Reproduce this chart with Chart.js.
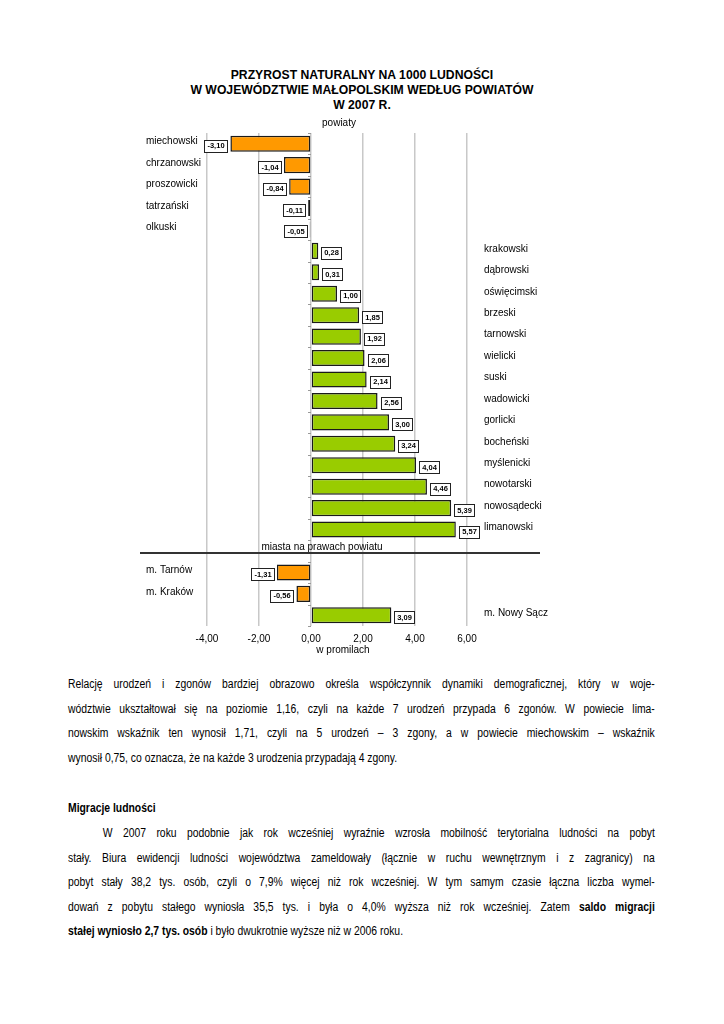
<!DOCTYPE html>
<html lang="pl">
<head>
<meta charset="utf-8">
<script src="https://cdn.jsdelivr.net/npm/chart.js@4.4.1/dist/chart.umd.min.js"></script>
<style>
  html, body { margin: 0; padding: 0; background: #fff; }
  body { width: 724px; height: 1024px; position: relative; font-family: "Liberation Sans", Arial, sans-serif; color: #000; overflow: hidden; }
  #title { position: absolute; top: 68px; left: 0; width: 724px; text-align: center; font-weight: bold; font-size: 12.2px; line-height: 15px; }
  #chart-box { position: absolute; left: 130px; top: 110px; width: 420px; height: 558px; }
  /* the document text is set in a narrow face: squeeze the regular one */
  .para { position: absolute; left: 68px; width: 707px; font-size: 12.5px; line-height: 24.5px; transform: scaleX(0.83); transform-origin: 0 0; }
  .para .l { text-align: justify; text-align-last: justify; white-space: nowrap; }
  .para .l.last { text-align-last: left; }
  .para .l.ind { padding-left: 42px; }
  #heading { position: absolute; left: 68px; top: 801px; font-size: 12.5px; font-weight: bold; transform: scaleX(0.83); transform-origin: 0 0; }
</style>
</head>
<body>
<div id="title">PRZYROST NATURALNY NA 1000 LUDNOŚCI<br>W WOJEWÓDZTWIE MAŁOPOLSKIM WEDŁUG POWIATÓW<br>W 2007 R.</div>
<div id="chart-box"><canvas id="chart"></canvas></div>

<div class="para" style="top:672px">
  <div class="l">Relację urodzeń i zgonów bardziej obrazowo określa współczynnik dynamiki demograficznej, który w woje-</div>
  <div class="l">wództwie ukształtował się na poziomie 1,16, czyli na każde 7 urodzeń przypada 6 zgonów. W powiecie lima-</div>
  <div class="l">nowskim wskaźnik ten wynosił 1,71, czyli na 5 urodzeń – 3 zgony, a w powiecie miechowskim – wskaźnik</div>
  <div class="l last">wynosił 0,75, co oznacza, że na każde 3 urodzenia przypadają 4 zgony.</div>
</div>

<div id="heading">Migracje ludności</div>

<div class="para" style="top:821px">
  <div class="l ind">W 2007 roku podobnie jak rok wcześniej wyraźnie wzrosła mobilność terytorialna ludności na pobyt</div>
  <div class="l">stały. Biura ewidencji ludności województwa zameldowały (łącznie w ruchu wewnętrznym i z zagranicy) na</div>
  <div class="l">pobyt stały 38,2 tys. osób, czyli o 7,9% więcej niż rok wcześniej. W tym samym czasie łączna liczba wymel-</div>
  <div class="l">dowań z pobytu stałego wyniosła 35,5 tys. i była o 4,0% wyższa niż rok wcześniej. Zatem <b>saldo migracji</b></div>
  <div class="l last"><b>stałej wyniosło 2,7 tys. osób</b> i było dwukrotnie wyższe niż w 2006 roku.</div>
</div>

<script>
const powiaty = ["miechowski", "chrzanowski", "proszowicki", "tatrzański", "olkuski",
  "krakowski", "dąbrowski", "oświęcimski", "brzeski", "tarnowski", "wielicki", "suski",
  "wadowicki", "gorlicki", "bocheński", "myślenicki", "nowotarski", "nowosądecki", "limanowski"];
const powiatyValues = [-3.10, -1.04, -0.84, -0.11, -0.05, 0.28, 0.31, 1.00, 1.85, 1.92, 2.06,
  2.14, 2.56, 3.00, 3.24, 4.04, 4.46, 5.39, 5.57];

const miasta = ["m. Tarnów", "m. Kraków", "m. Nowy Sącz"];
const miastaValues = [-1.31, -0.56, 3.09];

const xTicks = [-4, -2, 0, 2, 4, 6];

const separatorLabel = "miasta na prawach powiatu";
const xTitle = "w promilach";

// one empty slot between the two groups
const labels = [...powiaty, "", ...miasta];
const values = [...powiatyValues, null, ...miastaValues];
const separatorIndex = powiaty.length;

const FONT = "'Liberation Sans', Arial, sans-serif";

function fmt(v) {
  return v.toFixed(2).replace(".", ",");
}

const annotations = {
  id: "annotations",
  afterDatasetsDraw(chart) {
    const { ctx, chartArea, scales } = chart;
    const x = scales.x;
    const y = scales.y;
    const meta = chart.getDatasetMeta(0);
    const x0 = x.getPixelForValue(0);

    ctx.save();

    // small ticks on the zero axis
    ctx.strokeStyle = "#999";
    ctx.lineWidth = 1;
    for (let i = 0; i <= labels.length; i++) {
      const yy = Math.round(y.getPixelForValue(i - 0.5)) + 0.5;
      ctx.beginPath();
      ctx.moveTo(x0 - 3, yy);
      ctx.lineTo(x0, yy);
      ctx.stroke();
    }

    // category names
    ctx.font = "10px " + FONT;
    ctx.fillStyle = "#000";
    ctx.textBaseline = "middle";
    ctx.textAlign = "left";
    labels.forEach((name, i) => {
      if (!name) return;
      const yy = y.getPixelForValue(i) - 2;
      if (values[i] < 0) {
        ctx.fillText(name, chartArea.left - 61, yy);
      } else {
        ctx.fillText(name, chartArea.right + 17, yy);
      }
    });

    // value boxes
    ctx.font = "bold 7.5px " + FONT;
    meta.data.forEach((bar, i) => {
      const v = values[i];
      if (v === null) return;
      const text = fmt(v);
      const w = Math.ceil(ctx.measureText(text).width) + 5;
      const h = 12;
      const cy = bar.y + 2;
      let bx = v < 0 ? bar.x - 3 - w : bar.x + 3;
      bx = Math.round(bx) + 0.5;
      const by = Math.round(cy - h / 2) + 0.5;
      ctx.fillStyle = "#fff";
      ctx.fillRect(bx, by, w, h);
      ctx.strokeStyle = "#222";
      ctx.lineWidth = 1;
      ctx.strokeRect(bx, by, w, h);
      ctx.fillStyle = "#000";
      ctx.textAlign = "center";
      ctx.fillText(text, bx + w / 2, cy + 0.5);
    });

    // separator between powiaty and cities
    const sy = y.getPixelForValue(separatorIndex) + 2;
    ctx.strokeStyle = "#333";
    ctx.lineWidth = 2;
    ctx.beginPath();
    ctx.moveTo(chartArea.left - 67, sy);
    ctx.lineTo(chartArea.right + 73, sy);
    ctx.stroke();

    ctx.font = "10px " + FONT;
    ctx.textAlign = "center";
    ctx.fillStyle = "#000";
    ctx.fillText(separatorLabel, chartArea.left + 115, sy - 6);

    // group header and axis title
    ctx.fillText("powiaty", (chartArea.left + chartArea.right) / 2 + 2, chartArea.top - 10);
    ctx.fillText(xTitle, chartArea.left + 136, chartArea.bottom + 24);

    ctx.restore();
  }
};

const chart = new Chart(document.getElementById("chart"), {
  type: "bar",
  data: {
    labels: labels,
    datasets: [
      {
        data: values,
        backgroundColor: values.map((v) => (v < 0 ? "#ff9900" : "#99cc00")),
        borderColor: "#1a1a1a",
        borderWidth: 1.5,
        borderSkipped: false,
        barPercentage: 0.75,
        categoryPercentage: 1
      }
    ]
  },
  options: {
    indexAxis: "y",
    animation: false,
    responsive: true,
    maintainAspectRatio: false,
    layout: {
      padding: { left: 77, right: 83, top: 23, bottom: 16 }
    },
    plugins: {
      legend: { display: false },
      tooltip: { enabled: false }
    },
    scales: {
      x: {
        min: -4,
        max: 6,
        afterBuildTicks: (scale) => {
          scale.ticks = xTicks.map((v) => ({ value: v }));
        },
        ticks: {
          color: "#000",
          padding: 7,
          font: { family: FONT, size: 10 },
          callback: (v) => fmt(v)
        },
        grid: {
          color: "#c8c8c8",
          lineWidth: 1.5,
          drawTicks: false
        },
        border: { display: false }
      },
      y: {
        display: false
      }
    }
  },
  plugins: [annotations]
});
</script>
</body>
</html>
